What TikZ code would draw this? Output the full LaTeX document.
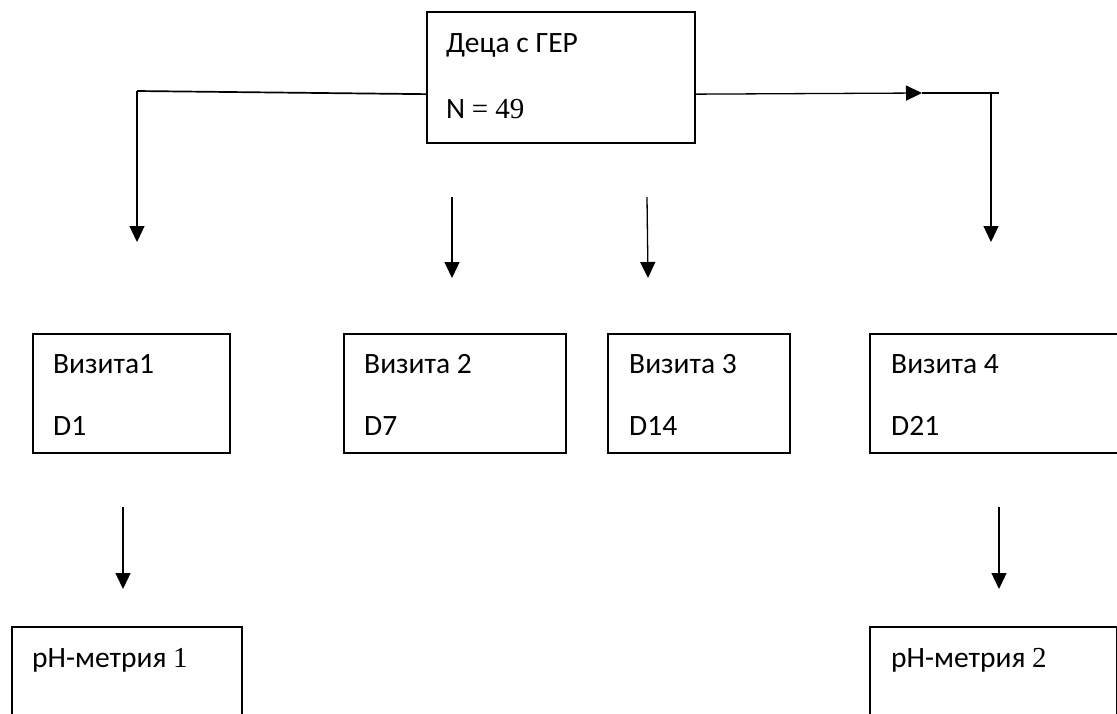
\documentclass[tikz,border=0pt]{standalone}
\usepackage{fontspec}
\setmainfont{Carlito}
\newfontfamily\numfont{Liberation Serif}
\usetikzlibrary{arrows.meta,positioning}

\begin{document}
\begin{tikzpicture}[
    x=1pt, y=-1pt,
    box/.style={rectangle, draw=black, line width=1.7pt, anchor=north west, inner sep=0pt},
    txt/.style={anchor=base west, inner sep=0pt, font=\fontsize{29.5}{35}\selectfont},
    link/.style={line width=1.7pt},
    arr/.style={line width=1.3pt, -{Triangle[length=16pt,width=15pt]}},
]
\useasboundingbox (0,0) rectangle (1117,713);
\clip (0,0) rectangle (1117,713);

% top box
\node[box, minimum width=268pt, minimum height=131pt] (deca) at (426,11) {};
\node[txt] (decaT) at (446,52) {Деца с ГЕР};
\node[txt] (decaN) at (446,118) {N {\numfont\fontsize{29}{35}\selectfont = 49}};

% visit boxes
\node[box, minimum width=197pt, minimum height=119pt] (viz1) at (32,333) {};
\node[txt] (viz1T) at (53,373) {Визита1};
\node[txt] (viz1D) at (53,435) {D1};

\node[box, minimum width=222pt, minimum height=119pt] (viz2) at (343,333) {};
\node[txt] (viz2T) at (364,373) {Визита 2};
\node[txt] (viz2D) at (364,435) {D7};

\node[box, minimum width=182pt, minimum height=119pt] (viz3) at (607,333) {};
\node[txt] (viz3T) at (629,373) {Визита 3};
\node[txt] (viz3D) at (629,435) {D14};

\node[box, minimum width=280pt, minimum height=119pt] (viz4) at (869,333) {};
\node[txt] (viz4T) at (891,373) {Визита 4};
\node[txt] (viz4D) at (891,435) {D21};

% pH boxes (cut at the bottom)
\node[box, minimum width=230pt, minimum height=130pt] (ph1) at (11,626) {};
\node[txt] (ph1T) at (32,667) {pH-метрия {\numfont\fontsize{29}{35}\selectfont 1}};

\node[box, minimum width=247pt, minimum height=130pt] (ph2) at (869,626) {};
\node[txt] (ph2T) at (891,667) {pH-метрия {\numfont\fontsize{29}{35}\selectfont 2}};

% free ends of the connectors
\coordinate (lturn) at (137,91);
\coordinate (ldown) at (137,242);
\coordinate (rmid) at (922,93);
\coordinate (rturn) at (999,93);
\coordinate (rtop) at (991,93);
\coordinate (rdown) at (991,242);
\coordinate (m2a) at (452,197);
\coordinate (m2b) at (452,278);
\coordinate (m3a) at (647,197);
\coordinate (m3b) at (648,278);
\coordinate (p1a) at (123,507);
\coordinate (p1b) at (123,589);
\coordinate (p2a) at (999,507);
\coordinate (p2b) at (999,589);

% connectors
\draw[link] ([yshift=-16.8pt]deca.west) -- (lturn);
\draw[arr] (lturn) -- (ldown);
\draw[arr] ([yshift=-16.8pt]deca.east) -- (rmid);
\draw[link] (rmid) -- (rturn);
\draw[arr] (rtop) -- (rdown);
\draw[arr] (m2a) -- (m2b);
\draw[arr] (m3a) -- (m3b);
\draw[arr] (p1a) -- (p1b);
\draw[arr] (p2a) -- (p2b);

\end{tikzpicture}
\end{document}
